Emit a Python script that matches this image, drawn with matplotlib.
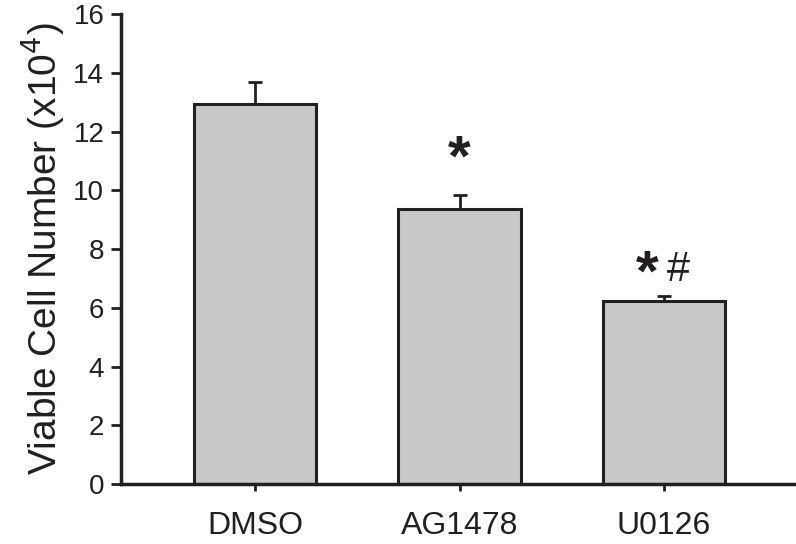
import matplotlib
matplotlib.use('Agg')
import matplotlib.pyplot as plt

groups = ['DMSO', 'AG1478', 'U0126']
means = [12.95, 9.38, 6.25]
errors = [0.75, 0.45, 0.15]
yticks = [0, 2, 4, 6, 8, 10, 12, 14, 16]

ink = '#231f20'
plt.rcParams['font.family'] = ['Liberation Sans', 'DejaVu Sans']

fig = plt.figure(figsize=(7.96, 5.44), dpi=100)
ax = fig.add_axes([0.152, 0.110, 0.848, 0.864])

x = range(len(groups))
ax.bar(x, means, width=0.6, color='#c7c8ca', edgecolor=ink, linewidth=2.2, zorder=2)
ax.errorbar(x, means, yerr=[[0] * len(errors), errors], fmt='none', ecolor=ink,
            elinewidth=2, capsize=5, capthick=2, zorder=1)

# significance marks
ax.text(1, 11.0, '*', ha='center', va='center', fontsize=42, fontweight='bold', color=ink)
ax.text(1.92, 7.1, '*', ha='center', va='center', fontsize=42, fontweight='bold', color=ink)
ax.text(2.07, 7.3, '#', ha='center', va='center', fontsize=30, color=ink)

ax.set_xlim(-0.655, 2.645)
ax.set_ylim(0, 16)
ax.set_yticks(yticks)
ax.set_xticks(list(x))
ax.set_xticklabels(groups, fontsize=23, color=ink)
ax.tick_params(axis='y', labelsize=20, colors=ink, length=7, width=2, pad=5)
ax.tick_params(axis='x', length=5, width=2, pad=14, colors=ink)
for s in ['top', 'right']:
    ax.spines[s].set_visible(False)
for s in ['left', 'bottom']:
    ax.spines[s].set_linewidth(2.5)
    ax.spines[s].set_color(ink)

ax.set_ylabel('Viable Cell Number (x10$^4$)', fontsize=28, color=ink, labelpad=5)

fig.savefig('out.png', dpi=100)
